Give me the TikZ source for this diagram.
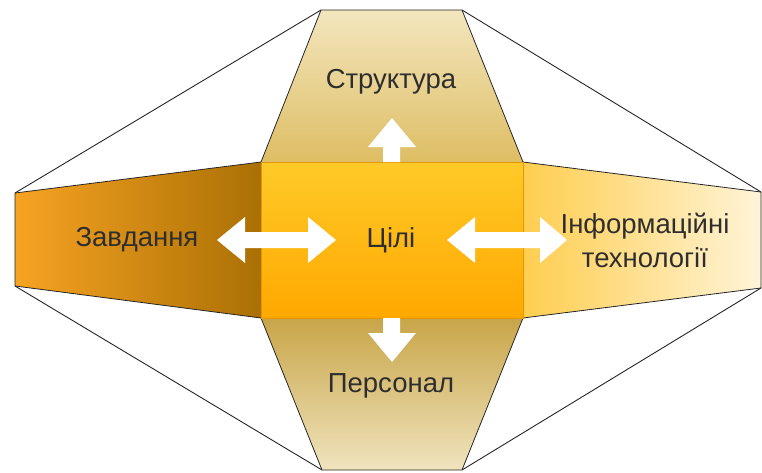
\documentclass[tikz,border=0pt]{standalone}
\usepackage{fontspec}
\setmainfont{Liberation Sans}
\begin{document}
\begin{tikzpicture}[x=1pt,y=-1pt,
  edge/.style={draw=black!85,line width=0.8pt,line join=round},
  guide/.style={draw=black!85,line width=0.9pt},
  blockarrow/.style={fill=white,draw=none},
  label/.style={text=black!82,font=\fontsize{27.5}{34}\selectfont,align=center}]
\useasboundingbox (0,0) rectangle (762,472);
% corner points
\coordinate (c1) at (261,162);
\coordinate (c2) at (523,162);
\coordinate (c3) at (523,318);
\coordinate (c4) at (261,318);
\coordinate (t1) at (321,10);
\coordinate (t2) at (462,10);
\coordinate (b1) at (322,470);
\coordinate (b2) at (462,470);
\coordinate (l1) at (15,193);
\coordinate (l2) at (15,286);
\coordinate (r1) at (761,192);
\coordinate (r2) at (761,288);
% side panels
\shade[top color={rgb,255:red,243;green,230;blue,190},bottom color={rgb,255:red,222;green,190;blue,100}]
  (t1) -- (t2) -- (c2) -- (c1) -- cycle;
\shade[top color={rgb,255:red,200;green,165;blue,72},bottom color={rgb,255:red,240;green,228;blue,190}]
  (c4) -- (c3) -- (b2) -- (b1) -- cycle;
\shade[left color={rgb,255:red,247;green,163;blue,35},right color={rgb,255:red,170;green,112;blue,4}]
  (l1) -- (c1) -- (c4) -- (l2) -- cycle;
\shade[left color={rgb,255:red,255;green,206;blue,80},right color={rgb,255:red,255;green,244;blue,216}]
  (c2) -- (r1) -- (r2) -- (c3) -- cycle;
\draw[edge] (c1) -- (t1) -- (t2) -- (c2);
\draw[edge] (c4) -- (b1) -- (b2) -- (c3);
\draw[edge] (c1) -- (l1) -- (l2) -- (c4);
\draw[edge] (c2) -- (r1) -- (r2) -- (c3);
% centre block
\shade[top color={rgb,255:red,255;green,202;blue,40},bottom color={rgb,255:red,255;green,168;blue,0}]
  (c1) rectangle (c3);
\draw[draw={rgb,255:red,230;green,150;blue,0},line width=0.6pt] (c1) rectangle (c3);
% outer frame lines
\draw[guide] (t1) -- (l1);
\draw[guide] (t2) -- (r1);
\draw[guide] (l2) -- (b1);
\draw[guide] (r2) -- (b2);
% white block arrows
\fill[blockarrow] (383,162) -- (383,147) -- (368,147) -- (392,118) -- (416,147) -- (400,147) -- (400,162) -- cycle;
\fill[blockarrow] (383,318) -- (383,333) -- (368,333) -- (392,362) -- (416,333) -- (400,333) -- (400,318) -- cycle;
\fill[blockarrow] (217,240) -- (245,217) -- (245,232) -- (308,232) -- (308,217) -- (336,240)
  -- (308,263) -- (308,248) -- (245,248) -- (245,263) -- cycle;
\fill[blockarrow] (447,240) -- (475,217) -- (475,232) -- (540,232) -- (540,217) -- (567,240)
  -- (540,263) -- (540,248) -- (475,248) -- (475,263) -- cycle;
% labels
\node[label] (goals) at (391,240) {Цілі};
\node[label] (structure) at (391,82) {Структура};
\node[label] (staff) at (391,386) {Персонал};
\node[label] (tasks) at (137,240) {Завдання};
\node[label] (it) at (645,240) {Інформаційні\\технології};
\end{tikzpicture}
\end{document}
